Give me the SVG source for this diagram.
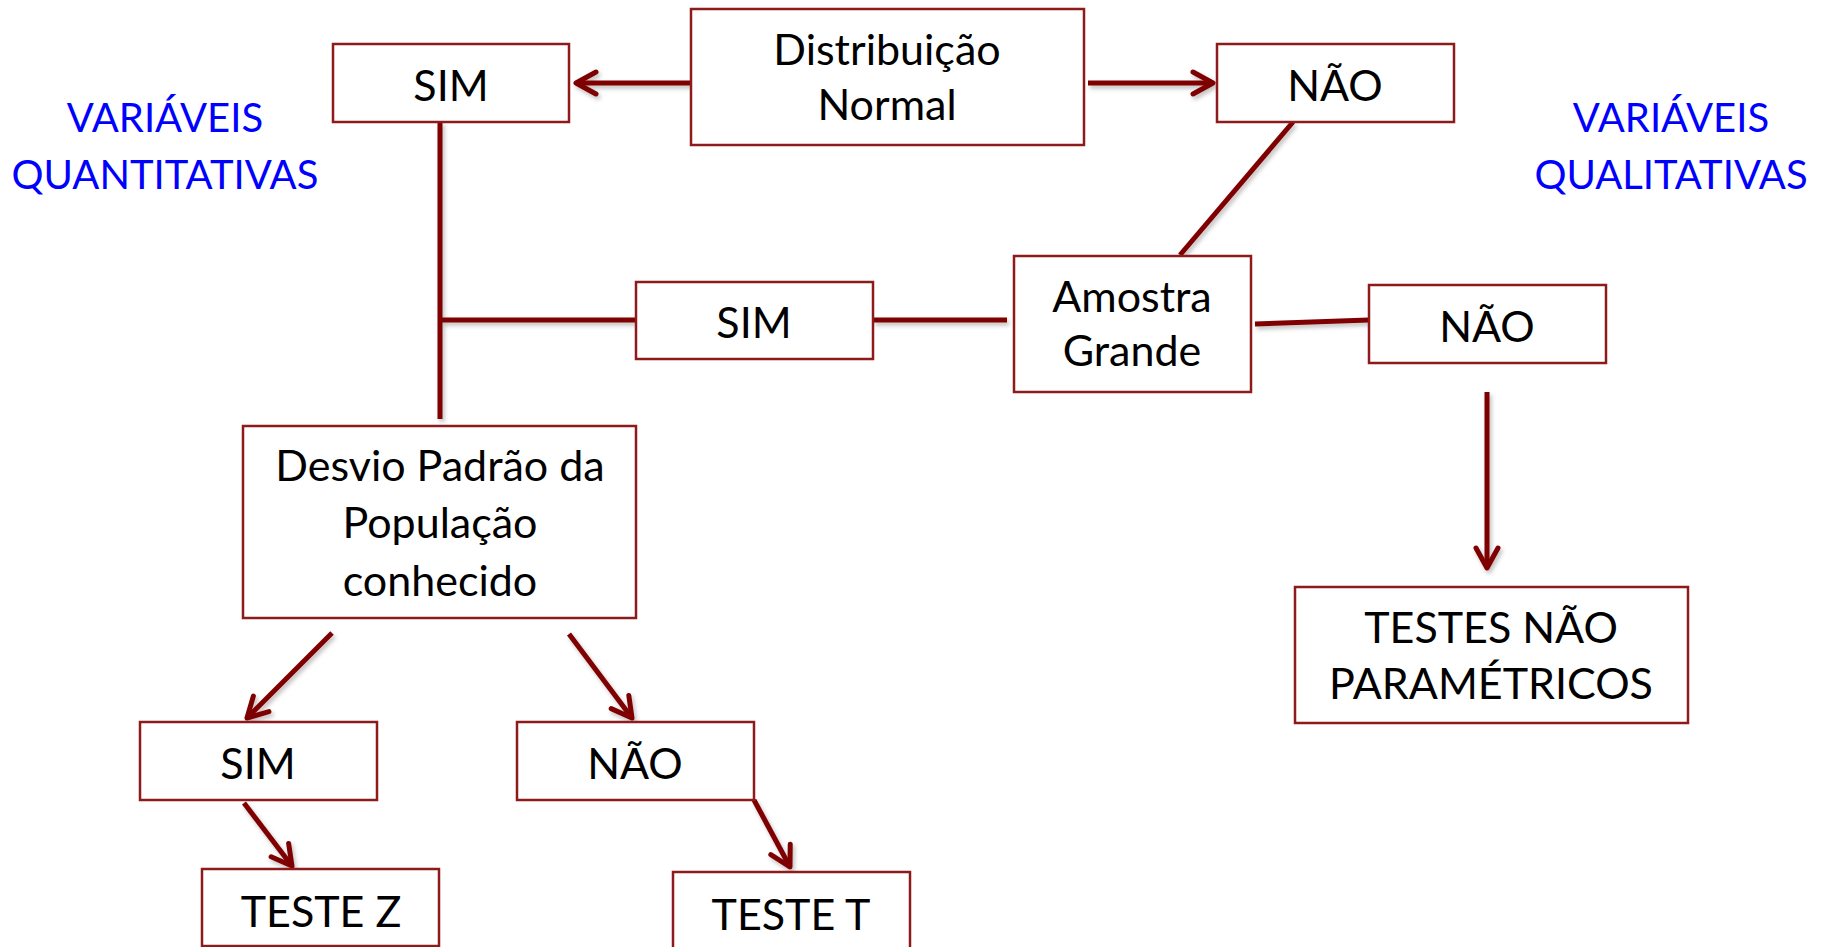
<svg xmlns="http://www.w3.org/2000/svg" width="1825" height="947" viewBox="0 0 1825 947">
<style>
.box{fill:#fff;stroke:#8E1B1B;stroke-width:2.5}
.t{font-family:Lato,"Liberation Sans",sans-serif;font-size:43px;fill:#000;text-anchor:middle}
.lbl{font-family:Lato,"Liberation Sans",sans-serif;font-size:40px;fill:#0000FF;text-anchor:middle}
.c{fill:none;stroke:#7F0000;stroke-width:5}
.a{marker-end:url(#ah)}
</style>
<defs>
<filter id="sh" filterUnits="userSpaceOnUse" x="0" y="0" width="1825" height="947">
<feDropShadow dx="2" dy="3" stdDeviation="2" flood-color="#000" flood-opacity="0.25"/>
</filter>
<marker id="ah" markerUnits="userSpaceOnUse" markerWidth="40" markerHeight="40" refX="0" refY="0" viewBox="-30 -20 40 40" orient="auto" overflow="visible">
<path d="M-20,-11 L0,0 L-20,11" fill="none" stroke="#7F0000" stroke-width="5" stroke-linecap="round" stroke-linejoin="round"/>
</marker>
</defs>

<g id="labels">
<text class="lbl" x="165" y="132">VARIÁVEIS</text>
<text class="lbl" x="165" y="189">QUANTITATIVAS</text>
<text class="lbl" x="1671" y="132">VARIÁVEIS</text>
<text class="lbl" x="1671" y="189">QUALITATIVAS</text>
</g>

<g id="connectors" filter="url(#sh)">
<line class="c a" x1="691" y1="83" x2="576" y2="83"/>
<line class="c a" x1="1088" y1="83" x2="1213" y2="83"/>
<line class="c" x1="440" y1="122" x2="440" y2="419"/>
<line class="c" x1="440" y1="320" x2="636" y2="320"/>
<line class="c" x1="873" y1="320" x2="1007" y2="320"/>
<line class="c" x1="1293" y1="122" x2="1180" y2="255"/>
<line class="c" x1="1255" y1="324" x2="1369" y2="320"/>
<line class="c a" x1="1487" y1="392" x2="1487" y2="568"/>
<line class="c a" x1="332" y1="633" x2="247" y2="718"/>
<line class="c a" x1="569" y1="634" x2="632" y2="718"/>
<line class="c a" x1="244" y1="803" x2="292" y2="866"/>
<line class="c a" x1="754" y1="800" x2="790" y2="867"/>
</g>

<g id="n-dist">
<rect class="box" x="691" y="9" width="393" height="136"/>
<text class="t" x="887" y="65">Distribuição</text>
<text class="t" x="887" y="120">Normal</text>
</g>
<g id="n-sim1">
<rect class="box" x="333" y="44" width="236" height="78"/>
<text class="t" x="451" y="101">SIM</text>
</g>
<g id="n-nao1">
<rect class="box" x="1217" y="44" width="237" height="78"/>
<text class="t" x="1335" y="101">NÃO</text>
</g>
<g id="n-sim2">
<rect class="box" x="636" y="282" width="237" height="77"/>
<text class="t" x="754" y="338">SIM</text>
</g>
<g id="n-amostra">
<rect class="box" x="1014" y="256" width="237" height="136"/>
<text class="t" x="1132" y="312">Amostra</text>
<text class="t" x="1132" y="366">Grande</text>
</g>
<g id="n-nao2">
<rect class="box" x="1369" y="285" width="237" height="78"/>
<text class="t" x="1487" y="342">NÃO</text>
</g>
<g id="n-desvio">
<rect class="box" x="243" y="426" width="393" height="192"/>
<text class="t" x="440" y="481">Desvio Padrão da</text>
<text class="t" x="440" y="538">População</text>
<text class="t" x="440" y="596">conhecido</text>
</g>
<g id="n-testes-np">
<rect class="box" x="1295" y="587" width="393" height="136"/>
<text class="t" x="1491" y="643">TESTES NÃO</text>
<text class="t" x="1491" y="699">PARAMÉTRICOS</text>
</g>
<g id="n-sim3">
<rect class="box" x="140" y="722" width="237" height="78"/>
<text class="t" x="258" y="779">SIM</text>
</g>
<g id="n-nao3">
<rect class="box" x="517" y="722" width="237" height="78"/>
<text class="t" x="635" y="779">NÃO</text>
</g>
<g id="n-testez">
<rect class="box" x="202" y="869" width="237" height="77"/>
<text class="t" x="321" y="927">TESTE Z</text>
</g>
<g id="n-testet">
<rect class="box" x="673" y="872" width="237" height="80"/>
<text class="t" x="791" y="930">TESTE T</text>
</g>
</svg>
